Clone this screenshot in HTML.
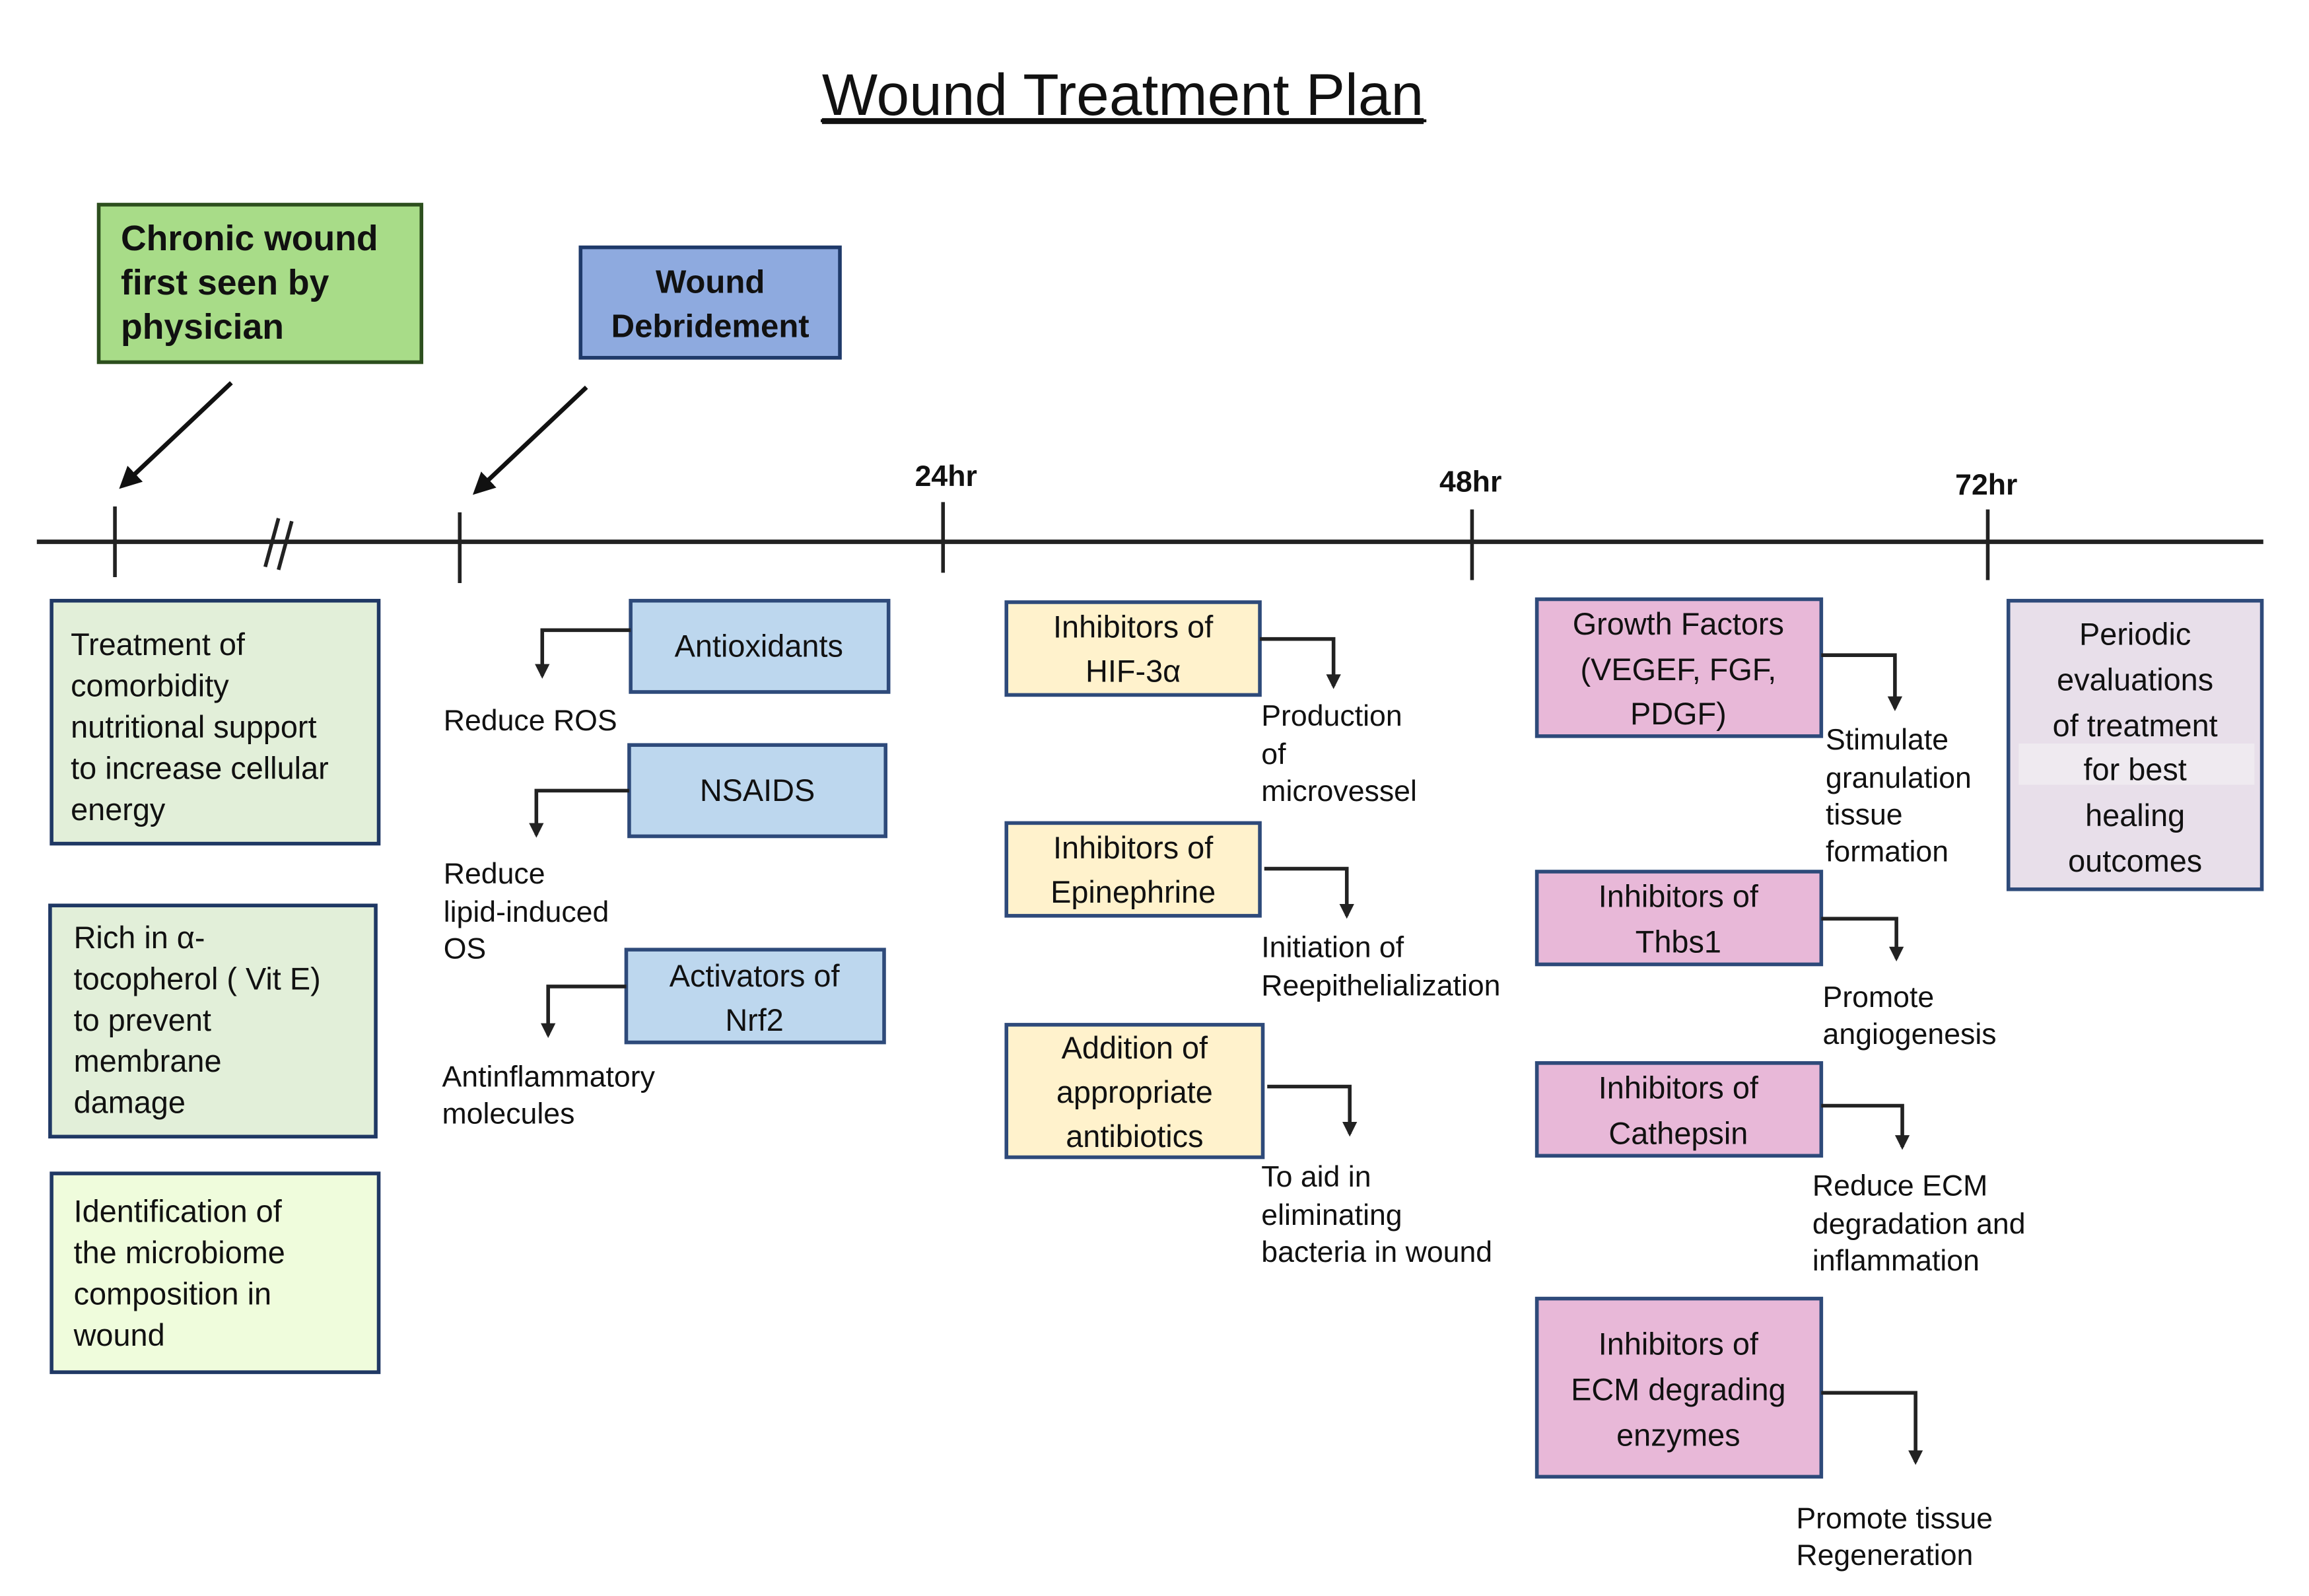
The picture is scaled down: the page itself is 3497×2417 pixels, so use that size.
<!DOCTYPE html>
<html><head><meta charset="utf-8"><style>
html,body{margin:0;padding:0;background:#fff;}
svg{display:block;}
text{font-family:"Liberation Sans",sans-serif;fill:#111;}
.b{font-size:21px;}
.l{font-size:20px;}
.c{text-anchor:middle;}
.bold{font-weight:bold;}
</style></head><body>
<svg width="3497" height="2417" viewBox="0 0 1567 1084" preserveAspectRatio="none" xmlns="http://www.w3.org/2000/svg">
<defs>
<marker id="ah" viewBox="0 0 10 10" refX="8" refY="5" markerWidth="5" markerHeight="5" orient="auto-start-reverse"><path d="M0,0 L10,5 L0,10 z" fill="#111"/></marker>
<marker id="sm" viewBox="0 0 10 10" refX="8" refY="5" markerWidth="4" markerHeight="4" orient="auto"><path d="M0,0 L10,5 L0,10 z" fill="#222"/></marker>
</defs>
<rect width="1567" height="1084" fill="#fff"/>
<text x="762" y="78" class="c" style="font-size:40px" text-decoration="underline">Wound Treatment Plan</text>
<line x1="557" y1="82" x2="968" y2="82" stroke="#111" stroke-width="2"/>

<rect x="67" y="139" width="219" height="107" fill="#a8dc88" stroke="#2d4f1e" stroke-width="2.5"/>
<text x="82" y="170" class="bold" style="font-size:24px">Chronic wound</text>
<text x="82" y="200" class="bold" style="font-size:24px">first seen by</text>
<text x="82" y="230" class="bold" style="font-size:24px">physician</text>

<rect x="394" y="168" width="176" height="75" fill="#8eaadf" stroke="#1f3a6a" stroke-width="2.5"/>
<text x="482" y="199" class="c bold" style="font-size:22px">Wound</text>
<text x="482" y="229" class="c bold" style="font-size:22px">Debridement</text>

<line x1="157" y1="260" x2="83" y2="330" stroke="#111" stroke-width="3" marker-end="url(#ah)"/>
<line x1="398" y1="263" x2="323" y2="334" stroke="#111" stroke-width="3" marker-end="url(#ah)"/>

<line x1="25" y1="368" x2="1536" y2="368" stroke="#222" stroke-width="3"/>
<g stroke="#222" stroke-width="2.5">
<line x1="78" y1="344" x2="78" y2="392"/>
<line x1="312" y1="348" x2="312" y2="396"/>
<line x1="640" y1="341" x2="640" y2="389"/>
<line x1="999" y1="346" x2="999" y2="394"/>
<line x1="1349" y1="346" x2="1349" y2="394"/>
<line x1="189" y1="352" x2="180" y2="385"/>
<line x1="198" y1="354" x2="189" y2="387"/>
</g>
<text x="642" y="330" class="c bold" style="font-size:20px">24hr</text>
<text x="998" y="334" class="c bold" style="font-size:20px">48hr</text>
<text x="1348" y="336" class="c bold" style="font-size:20px">72hr</text>

<g stroke="#1f3864" stroke-width="2.5">
<rect x="35" y="408" width="222" height="165" fill="#e2efd9"/>
<rect x="34" y="615" width="221" height="157" fill="#e2efd9"/>
<rect x="35" y="797" width="222" height="135" fill="#effcdc"/>
</g>
<text x="48" y="445" class="b">Treatment of</text>
<text x="48" y="473" class="b">comorbidity</text>
<text x="48" y="501" class="b">nutritional support</text>
<text x="48" y="529" class="b">to increase cellular</text>
<text x="48" y="557" class="b">energy</text>
<text x="50" y="644" class="b">Rich in α-</text>
<text x="50" y="672" class="b">tocopherol ( Vit E)</text>
<text x="50" y="700" class="b">to prevent</text>
<text x="50" y="728" class="b">membrane</text>
<text x="50" y="756" class="b">damage</text>
<text x="50" y="830" class="b">Identification of</text>
<text x="50" y="858" class="b">the microbiome</text>
<text x="50" y="886" class="b">composition in</text>
<text x="50" y="914" class="b">wound</text>

<g stroke="#2e4a7a" stroke-width="2.5" fill="#bdd7ee">
<rect x="428" y="408" width="175" height="62"/>
<rect x="427" y="506" width="174" height="62"/>
<rect x="425" y="645" width="175" height="63"/>
</g>
<text x="515" y="446" class="c b">Antioxidants</text>
<text x="514" y="544" class="c b">NSAIDS</text>
<text x="512" y="670" class="c b">Activators of</text>
<text x="512" y="700" class="c b">Nrf2</text>
<g stroke="#222" stroke-width="2.5" fill="none">
<polyline points="428,428 368,428 368,459" marker-end="url(#sm)"/>
<polyline points="427,537 364,537 364,567" marker-end="url(#sm)"/>
<polyline points="425,670 372,670 372,703" marker-end="url(#sm)"/>
</g>
<text x="301" y="496" class="l">Reduce ROS</text>
<text x="301" y="600" class="l">Reduce</text>
<text x="301" y="626" class="l">lipid-induced</text>
<text x="301" y="651" class="l">OS</text>
<text x="300" y="738" class="l">Antinflammatory</text>
<text x="300" y="763" class="l">molecules</text>

<g stroke="#2e4a7a" stroke-width="2.5" fill="#fff2cc">
<rect x="683" y="409" width="172" height="63"/>
<rect x="683" y="559" width="172" height="63"/>
<rect x="683" y="696" width="174" height="90"/>
</g>
<text x="769" y="433" class="c b">Inhibitors of</text>
<text x="769" y="463" class="c b">HIF-3α</text>
<text x="769" y="583" class="c b">Inhibitors of</text>
<text x="769" y="613" class="c b">Epinephrine</text>
<text x="770" y="719" class="c b">Addition of</text>
<text x="770" y="749" class="c b">appropriate</text>
<text x="770" y="779" class="c b">antibiotics</text>
<g stroke="#222" stroke-width="2.5" fill="none">
<polyline points="855,434 905,434 905,466" marker-end="url(#sm)"/>
<polyline points="858,590 914,590 914,622" marker-end="url(#sm)"/>
<polyline points="860,738 916,738 916,770" marker-end="url(#sm)"/>
</g>
<text x="856" y="493" class="l">Production</text>
<text x="856" y="519" class="l">of</text>
<text x="856" y="544" class="l">microvessel</text>
<text x="856" y="650" class="l">Initiation of</text>
<text x="856" y="676" class="l">Reepithelialization</text>
<text x="856" y="806" class="l">To aid in</text>
<text x="856" y="832" class="l">eliminating</text>
<text x="856" y="857" class="l">bacteria in wound</text>

<g stroke="#2e4a7a" stroke-width="2.5" fill="#e8b8d8">
<rect x="1043" y="407" width="193" height="93"/>
<rect x="1043" y="592" width="193" height="63"/>
<rect x="1043" y="722" width="193" height="63"/>
<rect x="1043" y="882" width="193" height="121"/>
</g>
<text x="1139" y="431" class="c b">Growth Factors</text>
<text x="1139" y="462" class="c b">(VEGEF, FGF,</text>
<text x="1139" y="492" class="c b">PDGF)</text>
<text x="1139" y="616" class="c b">Inhibitors of</text>
<text x="1139" y="647" class="c b">Thbs1</text>
<text x="1139" y="746" class="c b">Inhibitors of</text>
<text x="1139" y="777" class="c b">Cathepsin</text>
<text x="1139" y="920" class="c b">Inhibitors of</text>
<text x="1139" y="951" class="c b">ECM degrading</text>
<text x="1139" y="982" class="c b">enzymes</text>
<g stroke="#222" stroke-width="2.5" fill="none">
<polyline points="1236,445 1286,445 1286,481" marker-end="url(#sm)"/>
<polyline points="1236,624 1287,624 1287,651" marker-end="url(#sm)"/>
<polyline points="1236,751 1291,751 1291,779" marker-end="url(#sm)"/>
<polyline points="1236,946 1300,946 1300,993" marker-end="url(#sm)"/>
</g>
<text x="1239" y="509" class="l">Stimulate</text>
<text x="1239" y="535" class="l">granulation</text>
<text x="1239" y="560" class="l">tissue</text>
<text x="1239" y="585" class="l">formation</text>
<text x="1237" y="684" class="l">Promote</text>
<text x="1237" y="709" class="l">angiogenesis</text>
<text x="1230" y="812" class="l">Reduce ECM</text>
<text x="1230" y="838" class="l">degradation and</text>
<text x="1230" y="863" class="l">inflammation</text>
<text x="1219" y="1038" class="l">Promote tissue</text>
<text x="1219" y="1063" class="l">Regeneration</text>

<rect x="1363" y="408" width="172" height="196" fill="#e8dfea" stroke="#2e4a7a" stroke-width="2.5"/>
<rect x="1370" y="505" width="160" height="28" fill="#efeaf0"/>
<text x="1449" y="438" class="c b">Periodic</text>
<text x="1449" y="469" class="c b">evaluations</text>
<text x="1449" y="500" class="c b">of treatment</text>
<text x="1449" y="530" class="c b">for best</text>
<text x="1449" y="561" class="c b">healing</text>
<text x="1449" y="592" class="c b">outcomes</text>
</svg>
</body></html>
